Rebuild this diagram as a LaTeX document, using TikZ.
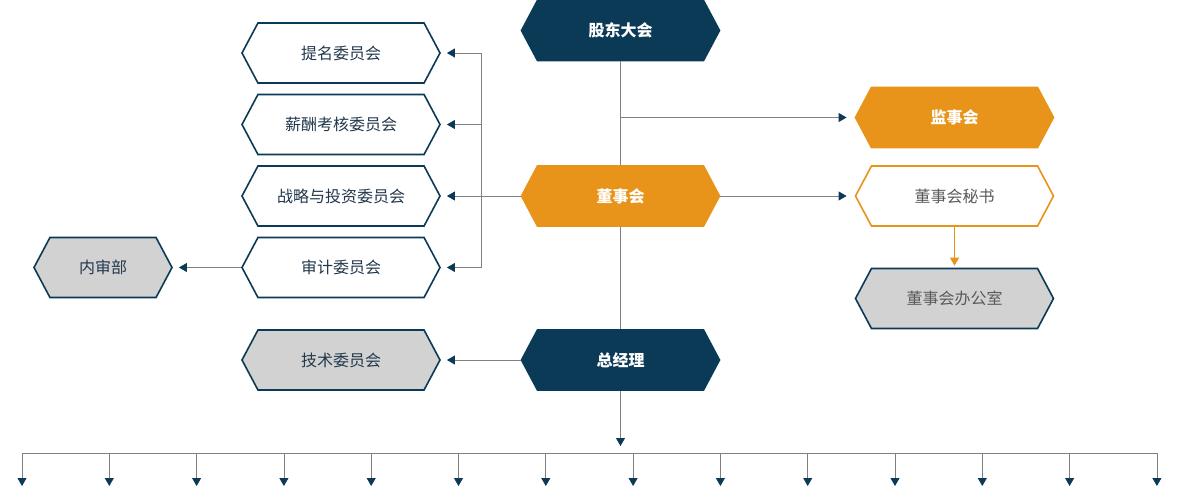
\documentclass[tikz,border=0pt]{standalone}
\usepackage{fontspec}
\setmainfont{Noto Sans CJK SC}
\usepackage{xcolor}
\usetikzlibrary{arrows.meta,shapes.symbols}

\definecolor{navy}{HTML}{0B3A56}
\definecolor{amber}{HTML}{E8941A}
\definecolor{greyfill}{HTML}{D2D2D2}
\definecolor{linegrey}{HTML}{808080}
\definecolor{labeltxt}{HTML}{23384C}
\definecolor{softtxt}{HTML}{5A5A5A}

\begin{document}
\begin{tikzpicture}[x=1pt,y=-1pt,
  hexa/.style={signal, signal to=east and west, signal pointer angle=124,
    draw=navy, line width=1.6pt, fill=white, minimum width=198pt,
    minimum height=60pt, inner sep=0pt, text=labeltxt,
    font=\fontsize{16}{19}\selectfont},
  darkhex/.style={hexa, fill=navy, text=white, font=\fontsize{16}{19}\selectfont\bfseries},
  orangehex/.style={hexa, draw=amber, fill=amber, text=white, font=\fontsize{16}{19}\selectfont\bfseries},
  line/.style={draw=linegrey, line width=0.8pt},
  arr/.style={line, -{Triangle[width=9pt,length=8pt,color=navy]}, shorten >=6pt}
]
  \useasboundingbox (0,0) rectangle (1180,495);

  % centre column
  \node[darkhex] (gd) at (620.5,30.5) {股东大会};
  \node[orangehex] (dsh) at (620.5,196) {董事会};
  \node[darkhex] (zjl) at (620.5,360) {总经理};

  % committees
  \node[hexa] (tm) at (341,53) {提名委员会};
  \node[hexa] (xc) at (341,124.5) {薪酬考核委员会};
  \node[hexa] (zl) at (341,196) {战略与投资委员会};
  \node[hexa] (sj) at (341,267.5) {审计委员会};
  \node[hexa, fill=greyfill] (js) at (341,360) {技术委员会};
  \node[hexa, fill=greyfill, minimum width=138pt] (nsb) at (103,267.5) {内审部};

  % right column
  \node[orangehex] (jsh) at (954.5,117.5) {监事会};
  \node[hexa, draw=amber, text=softtxt] (ms) at (954.5,196) {董事会秘书};
  \node[hexa, fill=greyfill, text=softtxt] (bgs) at (954.5,298.5) {董事会办公室};

  \coordinate (br) at (481,196);
  \coordinate (bus) at (620.5,453);

  \draw[line] (gd.south) -- (dsh.north);
  \draw[line] (dsh.south) -- (zjl.north);
  \draw[arr, shorten >=7pt] (zjl.south) -- (bus);
  \draw[arr, shorten >=8pt] (gd.south |- jsh.west) -- (jsh.west);
  \draw[arr, shorten >=8pt] (dsh.east) -- (ms.west);
  \draw[line, draw=amber, -{Triangle[width=9pt,length=8pt,color=amber]}, shorten >=2pt]
    (ms.south) -- (bgs.north);

  \draw[arr] (dsh.west) -- (zl.east);
  \draw[line] (br |- tm.east) -- (br |- sj.east);
  \draw[arr] (br |- tm.east) -- (tm.east);
  \draw[arr] (br |- xc.east) -- (xc.east);
  \draw[arr] (br |- sj.east) -- (sj.east);
  \draw[arr] (sj.west) -- (nsb.east);
  \draw[arr] (zjl.west) -- (js.east);

  % departments below
  \foreach \i in {0,...,13}
    \coordinate (d\i) at (22+87.3*\i,486);
  \draw[line] (d0 |- bus) -- (d13 |- bus);
  \foreach \i in {0,...,13}
    \draw[arr, shorten >=0pt] (d\i |- bus) -- (d\i);
\end{tikzpicture}
\end{document}
